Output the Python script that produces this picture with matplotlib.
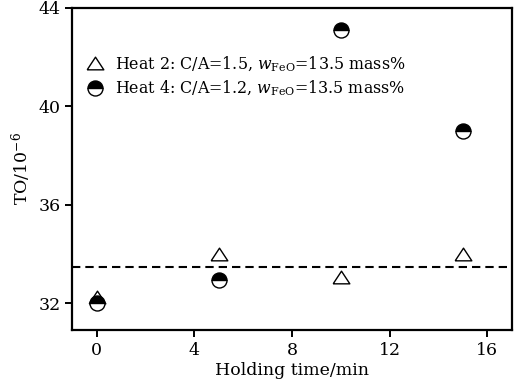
import matplotlib
matplotlib.use('Agg')
import matplotlib.pyplot as plt

plt.rcParams['font.family'] = ['DejaVu Serif']
plt.rcParams['mathtext.fontset'] = 'dejavuserif'

# data
time_min = [0, 5, 10, 15]
heat2_to = [32.25, 34.0, 33.05, 34.0]
heat4_to = [32.0, 32.95, 43.1, 39.0]
ref_level = 33.45
xticks = [0, 4, 8, 12, 16]
yticks = [32, 36, 40, 44]

# triangle a bit wider than tall, like the original
tri = [(-1, -0.76), (1, -0.76), (0, 0.76), (-1, -0.76)]

fig = plt.figure(figsize=(5.21, 3.83), dpi=100)
ax = fig.add_axes([0.139, 0.138, 0.843, 0.842])

ax.axhline(ref_level, color='black', lw=1.5, ls=(0, (4, 2.4)), zorder=1)

ax.plot(time_min, heat2_to, ls='none', marker=tri, ms=12, mfc='white',
        mec='black', mew=1.0, zorder=2,
        label=r'Heat 2: C/A=1.5, $w_{\mathrm{FeO}}$=13.5 mass%')
ax.plot(time_min, heat4_to, ls='none', marker='o', ms=10.8, fillstyle='top',
        mfc='black', mfcalt='white', mec='black', mew=1.0, zorder=3,
        label=r'Heat 4: C/A=1.2, $w_{\mathrm{FeO}}$=13.5 mass%')

ax.set_xlim(-1, 17)
ax.set_ylim(30.9, 44.0)
ax.set_xticks(xticks)
ax.set_yticks(yticks)
ax.tick_params(direction='out', length=5, width=1.4, labelsize=12.5)
for s in ax.spines.values():
    s.set_linewidth(1.6)

ax.set_xlabel('Holding time/min', fontsize=12.5, labelpad=2)
ax.set_ylabel(r'TO/10$^{-6}$', fontsize=12.5, labelpad=4)

ax.legend(loc='upper left', bbox_to_anchor=(0.02, 0.875), frameon=False,
          fontsize=11.4, handletextpad=0.75, borderaxespad=0,
          labelspacing=0.3, handlelength=1.0)

fig.savefig('out.png', dpi=100)
